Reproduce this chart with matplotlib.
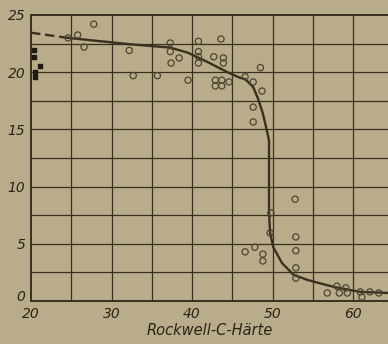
#!/usr/bin/env python3
"""Rockwell-C-Härte chart, recreated from a scanned figure."""

import matplotlib

matplotlib.use("Agg")
import matplotlib.pyplot as plt
import matplotlib.transforms as mtransforms

# open circles (Rockwell-C hardness, value)
hrc = [27.8, 25.8, 26.6, 24.6, 32.2, 32.7, 37.3, 37.3, 37.4, 38.4,
       40.8, 43.6, 40.8, 40.8, 40.8, 42.7, 43.9, 43.9, 42.9, 42.9,
       43.7, 43.7, 44.6, 46.6, 47.6, 48.5, 48.7, 47.6, 47.6, 39.5,
       35.7, 52.8, 49.7, 52.9, 52.9, 52.9, 46.6, 47.8, 48.8, 48.8,
       49.8, 56.8, 58.0, 58.3, 59.1, 59.3, 60.9, 61.1, 62.1, 63.2, 52.9]
vals = [24.2, 23.25, 22.2, 23.0, 21.9, 19.7, 22.55, 21.8, 20.8, 21.25,
        22.7, 22.9, 21.8, 21.35, 20.8, 21.35, 21.25, 20.8, 19.3, 18.8,
        19.3, 18.8, 19.15, 19.6, 19.15, 20.4, 18.35, 16.95, 15.65, 19.3,
        19.7, 8.9, 5.95, 5.6, 4.4, 2.9, 4.3, 4.7, 4.1, 3.5,
        7.7, 0.7, 1.3, 0.7, 1.15, 0.7, 0.8, 0.35, 0.8, 0.7, 2.0]

# small black marks at the left edge
mark_x = [20.4, 20.4, 21.1, 20.5, 20.5]
mark_y = [21.9, 21.3, 20.5, 20.0, 19.6]

# dashed extrapolation and drawn curve
dash_x = [20.0, 24.6]
dash_y = [23.45, 23.0]
curve_x = [24.6, 32.2, 37.3, 39.5, 41.9, 44.4, 46.0, 46.6, 47.6, 48.2,
           48.8, 49.3, 49.57, 49.57, 49.7, 50.1, 51.2, 52.6, 54.3, 55.9,
           57.8, 60.9, 64.4]
curve_y = [23.0, 22.45, 22.15, 21.7, 20.9, 20.0, 19.5, 19.4, 18.7, 17.7,
           16.4, 14.9, 14.0, 7.7, 5.95, 4.7, 3.3, 2.3, 1.85, 1.55,
           1.2, 0.8, 0.7]

x_ticks = [20, 30, 40, 50, 60]
y_ticks = [0, 5, 10, 15, 20, 25]

PAPER = "#b8ac8a"
INK = "#3a3020"
TEXT = "#2a2418"

plt.rcParams["font.family"] = ["DejaVu Sans"]

fig = plt.figure(figsize=(3.88, 3.44), dpi=100, facecolor=PAPER)
ax = fig.add_axes([31 / 388, 43 / 344, 357 / 388, 286 / 344])
ax.set_facecolor(PAPER)

ax.set_xlim(20, 20 + 357 / 8.05)
ax.set_ylim(0, 25)

for v in range(25, 66, 5):
    ax.axvline(v, color=INK, lw=0.9, zorder=1)
for v in [2.5 * i for i in range(1, 10)]:
    ax.axhline(v, color=INK, lw=0.9, zorder=1)

ax.plot(dash_x, dash_y, color=INK, lw=1.7, ls=(0, (4, 2)), zorder=3)
ax.plot(curve_x, curve_y, color=INK, lw=1.7, zorder=3)
ax.scatter(hrc, vals, s=20, facecolors="none", edgecolors="#4e4432",
           linewidths=0.9, zorder=4)
ax.scatter(mark_x, mark_y, s=9, marker="s", color="#1e1a12", zorder=4)

for side in ["left", "bottom", "top"]:
    ax.spines[side].set_color(INK)
    ax.spines[side].set_linewidth(1.4)
ax.spines["right"].set_visible(False)

ax.set_xticks(x_ticks)
ax.set_xticklabels([str(t) for t in x_ticks], style="oblique",
                   fontsize=10, color=TEXT)
ax.set_yticks(y_ticks)
ax.set_yticklabels([str(t) for t in y_ticks], style="oblique",
                   fontsize=10, color=TEXT)
ax.tick_params(length=0, pad=4)
# the "0" sits a little above the axis line, as in the original
zero = ax.get_yticklabels()[0]
zero.set_transform(zero.get_transform()
                   + mtransforms.ScaledTranslation(0, 4 / 72, fig.dpi_scale_trans))
ax.set_xlabel("Rockwell-C-Härte", fontsize=10.5, style="oblique",
              color=TEXT, labelpad=2)

fig.savefig("out.png", dpi=100, facecolor=PAPER)
